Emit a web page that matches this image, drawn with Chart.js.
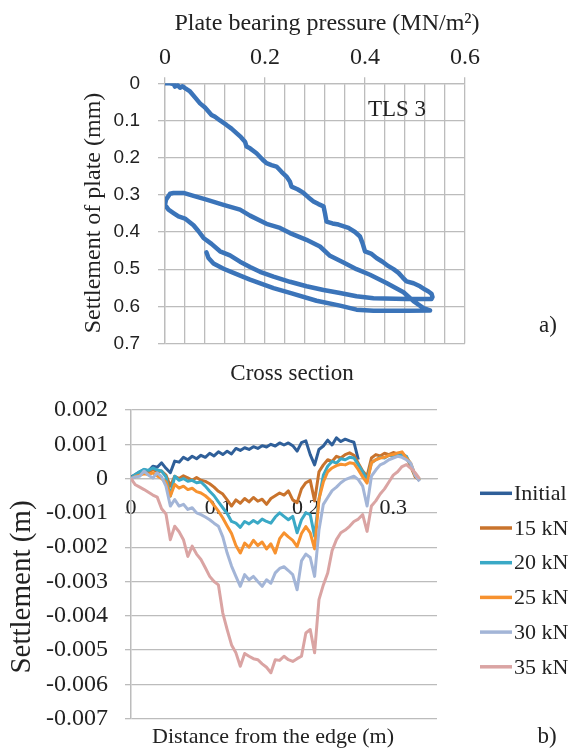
<!DOCTYPE html>
<html>
<head>
<meta charset="utf-8">
<script src="https://cdn.jsdelivr.net/npm/chart.js@4.4.1/dist/chart.umd.min.js"></script>
<style>
  body { margin: 0; background: #fff; overflow: hidden; }
  canvas { position: absolute; left: 0; }
  #plate { top: 0; }
  #section { top: 370px; }
</style>
</head>
<body>
<canvas id="plate" width="572" height="390"></canvas>
<canvas id="section" width="572" height="400"></canvas>
<script>
// a) plate bearing test TLS 3 : load, unload, reload, unload
const pressure = [
  0, 0.01, 0.017, 0.02, 0.025, 0.03, 0.035, 0.04, 0.05, 0.06,
  0.07, 0.08, 0.093, 0.1, 0.11, 0.123, 0.133, 0.143, 0.152, 0.16,
  0.163, 0.17, 0.183, 0.195, 0.203, 0.213, 0.223, 0.233, 0.243, 0.25,
  0.253, 0.265, 0.277, 0.287, 0.297, 0.307, 0.317, 0.32, 0.323, 0.335,
  0.347, 0.367, 0.38, 0.39, 0.395, 0.4, 0.412, 0.423, 0.435, 0.447,
  0.457, 0.467, 0.475, 0.483, 0.497, 0.51, 0.52, 0.527, 0.533, 0.535,
  0.533,
  0.483, 0.417, 0.383, 0.35, 0.317, 0.283, 0.25, 0.217, 0.19, 0.17,
  0.15, 0.13, 0.11, 0.093, 0.077, 0.067, 0.057, 0.04, 0.027, 0.017,
  0.007, 0, 0.002, 0.007, 0.01,
  0.017, 0.037, 0.057, 0.083, 0.117, 0.15, 0.17, 0.203, 0.23, 0.25,
  0.283, 0.31, 0.33, 0.357, 0.383, 0.41, 0.443, 0.477, 0.497, 0.517,
  0.53,
  0.483, 0.417, 0.383, 0.35, 0.303, 0.25, 0.217, 0.17, 0.137, 0.117,
  0.097, 0.087, 0.083
];
const plateSettlement = [
  0, 0, 0.002, 0.009, 0.005, 0.012, 0.008, 0.013, 0.022, 0.038,
  0.054, 0.065, 0.085, 0.09, 0.1, 0.112, 0.122, 0.134, 0.145, 0.157,
  0.17, 0.175, 0.188, 0.205, 0.215, 0.22, 0.224, 0.238, 0.251, 0.265,
  0.278, 0.285, 0.295, 0.307, 0.318, 0.325, 0.331, 0.35, 0.372, 0.377,
  0.38, 0.389, 0.4, 0.412, 0.43, 0.452, 0.458, 0.47, 0.48, 0.492,
  0.5, 0.51, 0.522, 0.533, 0.538, 0.546, 0.555, 0.56, 0.566, 0.575,
  0.58,
  0.58, 0.578, 0.573, 0.564, 0.556, 0.546, 0.534, 0.52, 0.507, 0.494,
  0.48, 0.463, 0.452, 0.432, 0.416, 0.398, 0.382, 0.364, 0.358, 0.349,
  0.34, 0.327, 0.313, 0.303, 0.297,
  0.295, 0.295, 0.303, 0.313, 0.327, 0.34, 0.356, 0.378, 0.389, 0.403,
  0.421, 0.439, 0.464, 0.482, 0.5, 0.515, 0.537, 0.562, 0.586, 0.605,
  0.611,
  0.612, 0.612, 0.609, 0.598, 0.585, 0.564, 0.551, 0.528, 0.51, 0.499,
  0.485, 0.47, 0.455
];

// b) cross section, settlement read in mm (plotted in m)
const distance = [
  0, 0.005, 0.01, 0.015, 0.02, 0.025, 0.03, 0.035, 0.04, 0.045,
  0.05, 0.055, 0.06, 0.065, 0.07, 0.075, 0.08, 0.085, 0.09, 0.095,
  0.1, 0.105, 0.11, 0.115, 0.12, 0.125, 0.13, 0.135, 0.14, 0.145,
  0.15, 0.155, 0.16, 0.165, 0.17, 0.175, 0.18, 0.185, 0.19, 0.195,
  0.2, 0.205, 0.21, 0.215, 0.22, 0.225, 0.23, 0.235, 0.24, 0.245,
  0.25, 0.255, 0.26, 0.265, 0.27, 0.275, 0.28, 0.285, 0.29, 0.295,
  0.3, 0.305, 0.31, 0.315, 0.32, 0.325, 0.33
];
const seriesNames = ['Initial', '15 kN', '20 kN', '25 kN', '30 kN', '35 kN'];
const settleInitial = [
  0.05, 0.12, 0.20, 0.26, 0.22, 0.36, 0.33, 0.46, 0.30, 0.17,
  0.51, 0.48, 0.62, 0.55, 0.65, 0.58, 0.68, 0.62, 0.74, 0.66,
  0.78, 0.70, 0.80, 0.72, 0.88, 0.82, 0.90, 0.85, 0.93, 0.88,
  0.96, 0.92, 1.00, 0.95, 1.04, 0.98, 1.04, 0.96, 0.80, 1.05,
  1.10, 0.70, 0.40, 0.85, 0.95, 1.12, 0.98, 1.19, 1.08, 1.15,
  1.10, 1.06, 0.55
];
const settle15 = [
  0.02, 0.10, 0.15, 0.22, 0.18, 0.27, 0.20, 0.22, 0.10, -0.22,
  0.07, 0.00, 0.08, 0.02, -0.05, 0.03, -0.05, -0.08, -0.15, -0.25,
  -0.37, -0.45, -0.62, -0.80, -0.62, -0.72, -0.58, -0.68, -0.55, -0.66,
  -0.60, -0.75, -0.58, -0.50, -0.42, -0.48, -0.36, -0.62, -0.70, -0.30,
  -0.12, -0.05, -0.65, 0.20, 0.40, 0.55, 0.50, 0.65, 0.60, 0.70,
  0.75, 0.68, 0.45, 0.22, 0.07, 0.60, 0.70, 0.66, 0.74, 0.70,
  0.76, 0.72, 0.75, 0.62, 0.35, 0.05, -0.05
];
const settle20 = [
  0.02, 0.12, 0.20, 0.27, 0.24, 0.31, 0.25, 0.22, 0.05, -0.51,
  0.07, -0.05, 0.00, -0.08, -0.05, -0.12, -0.10, -0.22, -0.37, -0.50,
  -0.68, -0.85, -1.02, -1.25, -1.30, -1.42, -1.25, -1.32, -1.22, -1.30,
  -1.18, -1.25, -1.30, -1.12, -1.00, -1.10, -1.20, -1.10, -1.58, -1.20,
  -1.00, -1.05, -1.68, -0.60, 0.10, 0.36, 0.50, 0.45, 0.58, 0.55,
  0.62, 0.60, 0.40, 0.20, -0.03, 0.46, 0.55, 0.62, 0.60, 0.68,
  0.65, 0.70, 0.68, 0.65, 0.40, 0.10, -0.05
];
const settle25 = [
  0.00, 0.06, 0.10, 0.14, 0.12, 0.17, 0.08, 0.00, -0.10, -0.51,
  -0.17, -0.28, -0.22, -0.32, -0.28, -0.38, -0.42, -0.50, -0.61, -0.78,
  -0.95, -1.15, -1.38, -1.60, -1.95, -2.17, -1.88, -2.00, -1.80, -1.95,
  -1.85, -2.05, -1.90, -2.17, -1.75, -1.58, -1.70, -1.80, -1.98, -1.60,
  -1.40, -1.58, -2.05, -0.60, -0.10, 0.20, 0.31, 0.38, 0.42, 0.40,
  0.46, 0.44, 0.26, 0.05, -0.13, 0.46, 0.55, 0.60, 0.62, 0.68,
  0.70, 0.75, 0.78, 0.60, 0.45, 0.10, -0.05
];
const settle30 = [
  0.00, 0.05, 0.07, 0.22, 0.10, 0.02, 0.17, 0.05, -0.22, -0.80,
  -0.61, -0.80, -0.75, -0.90, -0.85, -1.00, -1.05, -1.12, -1.20, -1.30,
  -1.39, -1.70, -2.17, -2.55, -2.85, -3.14, -2.80, -2.95, -2.85, -3.00,
  -3.14, -2.95, -3.05, -2.75, -2.62, -2.57, -2.68, -2.80, -3.24, -2.40,
  -2.20, -2.30, -2.85, -1.50, -0.75, -0.55, -0.35, -0.25, -0.12, -0.03,
  0.02, 0.07, -0.03, -0.22, -0.80, 0.07, 0.25, 0.40, 0.46, 0.55,
  0.60, 0.65, 0.62, 0.55, 0.45, 0.10, -0.08
];
const settle35 = [
  0.00, -0.18, -0.25, -0.32, -0.40, -0.48, -0.54, -0.88, -1.03, -1.78,
  -1.39, -1.55, -1.78, -2.27, -1.97, -2.20, -2.36, -2.60, -2.85, -3.00,
  -3.10, -3.92, -4.40, -4.85, -5.08, -5.47, -5.10, -5.18, -5.25, -5.28,
  -5.40, -5.50, -5.66, -5.28, -5.30, -5.18, -5.28, -5.33, -5.25, -5.18,
  -4.50, -4.40, -5.08, -3.53, -3.10, -2.75, -2.10, -1.78, -1.58, -1.50,
  -1.39, -1.25, -1.18, -1.05, -1.54, -0.80, -0.65, -0.45, -0.30, -0.10,
  0.10, 0.20, 0.35, 0.41, 0.30, 0.17, 0.00
];
const sectionSeries = [settleInitial, settle15, settle20, settle25, settle30, settle35];
const sectionColors = ['#2f5f99', '#c9732c', '#3aa9c6', '#f7922f', '#a3b5d7', '#daa4a3'];

const serif = '"Liberation Serif", "Times New Roman", serif';
const gridGrey = '#bcbcbc';
const textColor = '#222';

// free text (axis titles, panel letters) drawn on the canvas
const notes = {
  id: 'notes',
  afterDraw(chart, args, opts) {
    const ctx = chart.ctx;
    ctx.save();
    ctx.fillStyle = textColor;
    ctx.textAlign = 'center';
    ctx.textBaseline = 'middle';
    opts.items.forEach(function(t) {
      ctx.save();
      ctx.font = t.font;
      ctx.translate(t.x, t.y);
      if (t.rotate) ctx.rotate(-Math.PI / 2);
      ctx.fillText(t.text, 0, 0);
      ctx.restore();
    });
    ctx.restore();
  }
};

// legend on the right of panel b), line sample + label
const sideLegend = {
  id: 'sideLegend',
  afterDraw(chart, args, opts) {
    const ctx = chart.ctx;
    ctx.save();
    ctx.font = opts.font;
    ctx.textAlign = 'left';
    ctx.textBaseline = 'middle';
    chart.data.datasets.forEach(function(ds, i) {
      const y = opts.top + i * opts.gap;
      ctx.strokeStyle = ds.borderColor;
      ctx.lineWidth = 3.5;
      ctx.beginPath();
      ctx.moveTo(opts.x, y);
      ctx.lineTo(opts.x + opts.len, y);
      ctx.stroke();
      ctx.fillStyle = textColor;
      ctx.fillText(ds.label, opts.x + opts.len + 2, y + 1);
    });
    ctx.restore();
  }
};

new Chart(document.getElementById('plate'), {
  type: 'scatter',
  data: {
    datasets: [{
      data: pressure.map((p, i) => ({ x: p, y: plateSettlement[i] })),
      showLine: true,
      borderColor: '#3b74b9',
      borderWidth: 4.5,
      borderJoinStyle: 'round',
      borderCapStyle: 'round',
      pointRadius: 0,
      tension: 0,
    }],
  },
  plugins: [notes],
  options: {
    responsive: false,
    animation: false,
    layout: { padding: { left: 0, top: 0, right: 107, bottom: 46.5 } },
    plugins: {
      legend: { display: false },
      tooltip: { enabled: false },
      notes: {
        items: [
          { text: 'Plate bearing pressure (MN/m²)', x: 327, y: 24, font: '24px ' + serif },
          { text: 'Settlement of plate (mm)', x: 94, y: 213, rotate: true, font: '24px ' + serif },
          { text: 'TLS 3', x: 397, y: 110, font: '23px ' + serif },
          { text: 'a)', x: 548, y: 326, font: '23px ' + serif },
          { text: 'Cross section', x: 292, y: 374, font: '23px ' + serif },
        ],
      },
    },
    scales: {
      x: {
        type: 'linear',
        position: 'top',
        min: 0,
        max: 0.6,
        afterFit: (scale) => { scale.height = 83.3; },
        ticks: {
          stepSize: 0.04,
          maxTicksLimit: 30,
          padding: 5,
          color: textColor,
          font: { family: serif, size: 24 },
          maxRotation: 0,
          autoSkip: false,
          callback: function(v) {
            const r = Math.round(v * 5);
            return Math.abs(v * 5 - r) < 1e-6 ? String(r / 5) : '';
          },
        },
        grid: {
          color: gridGrey,
          lineWidth: 1.3,
          tickLength: 6,
          tickColor: (ctx) => {
            const v = ctx.tick ? ctx.tick.value : 0;
            return Math.abs(v * 5 - Math.round(v * 5)) < 1e-6 ? gridGrey : 'rgba(0,0,0,0)';
          },
        },
        border: { color: gridGrey, width: 1.3 },
      },
      y: {
        min: 0,
        max: 0.7,
        reverse: true,
        afterFit: (scale) => { scale.width = 165; },
        ticks: {
          stepSize: 0.1,
          padding: 18,
          color: textColor,
          font: { family: '"Liberation Sans", Arial, sans-serif', size: 19 },
          callback: (v) => String(Math.round(v * 10) / 10),
        },
        grid: { color: gridGrey, lineWidth: 1.3, tickLength: 7 },
        border: { color: gridGrey, width: 1.3 },
      },
    },
  },
});

new Chart(document.getElementById('section'), {
  type: 'scatter',
  data: {
    datasets: sectionSeries.map((vals, i) => ({
      label: seriesNames[i],
      data: vals.map((v, j) => ({ x: distance[j], y: v / 1000 })),
      showLine: true,
      borderColor: sectionColors[i],
      backgroundColor: sectionColors[i],
      borderWidth: 3,
      borderJoinStyle: 'round',
      pointRadius: 0,
      tension: 0,
      order: sectionSeries.length - 1 - i,
    })),
  },
  plugins: [notes, sideLegend],
  options: {
    responsive: false,
    animation: false,
    layout: { padding: { left: 0, top: 40, right: 135, bottom: 51.3 } },
    plugins: {
      legend: { display: false },
      tooltip: { enabled: false },
      notes: {
        items: [
          { text: 'Settlement (m)', x: 22, y: 217, rotate: true, font: '29px ' + serif },
          { text: 'Distance from the edge (m)', x: 273, y: 367, font: '22px ' + serif },
          { text: 'b)', x: 547, y: 367, font: '23px ' + serif },
        ],
      },
      sideLegend: { x: 480, len: 32, top: 123.3, gap: 34.7, font: '22px ' + serif },
    },
    scales: {
      x: {
        type: 'linear',
        position: { y: 0 },
        min: 0,
        max: 0.35,
        ticks: {
          stepSize: 0.1,
          includeBounds: false,
          padding: 16,
          color: textColor,
          font: { family: serif, size: 22 },
          maxRotation: 0,
          callback: (v) => String(Math.round(v * 10) / 10),
        },
        grid: { display: false, drawTicks: false },
        border: { color: gridGrey, width: 1.3 },
      },
      y: {
        min: -0.007,
        max: 0.002,
        afterFit: (scale) => { scale.width = 131; },
        ticks: {
          stepSize: 0.001,
          padding: 17,
          color: textColor,
          font: { family: serif, size: 24 },
          callback: (v) => (Math.abs(v) < 1e-9 ? '0' : v.toFixed(3)),
        },
        grid: { color: gridGrey, lineWidth: 1.3, tickLength: 6 },
        border: { color: gridGrey, width: 1.5 },
      },
    },
  },
});
</script>
</body>
</html>
